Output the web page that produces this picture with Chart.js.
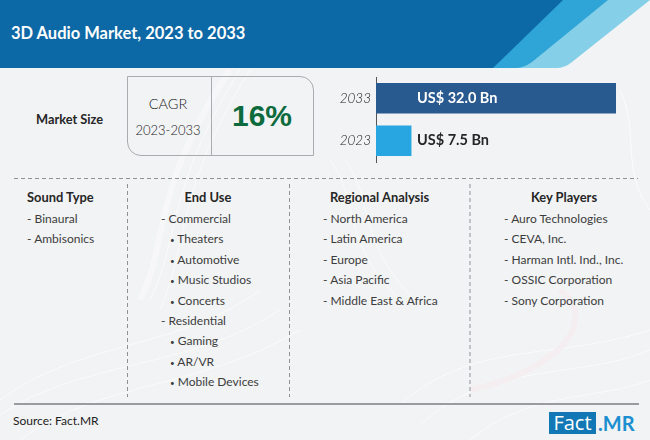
<!DOCTYPE html>
<html>
<head>
<meta charset="utf-8">
<script src="https://cdn.jsdelivr.net/npm/chart.js@4"></script>
<style>
html, body { margin: 0; padding: 0; }
body { width: 650px; height: 440px; position: relative; overflow: hidden; background: #f2f3f5; font-family: Lato, sans-serif; color: #333; }
.abs { position: absolute; white-space: nowrap; line-height: 20px; }
#bg { position: absolute; left: 0; top: 0; }
#title { left: 11px; top: 22px; font: bold 16.5px/22px Lato, sans-serif; color: #fff; }
#cagrBox { position: absolute; left: 127px; top: 76px; width: 187px; height: 80px; box-sizing: border-box; border: 1px solid #a9abae; border-radius: 0 14px 0 14px; }
#cagrBox i { position: absolute; left: 83px; top: 0; width: 1px; height: 78px; background: #a9abae; }
.head { font-weight: 700; font-size: 12.9px; color: #262626; }
.item { font-size: 12px; color: #3c3c3c; }
.item span { font-size: 8px; }
#chartWrap { position: absolute; left: 330px; top: 71px; width: 300px; height: 97px; }
</style>
</head>
<body>
<svg id="bg" width="650" height="440">
  <g fill="none" stroke="#ffffff" stroke-width="1" opacity="0.7">
    <path d="M140 300 C 170 240, 150 190, 230 70" stroke-width="6" opacity="0.6"/>
    <path d="M150 300 C 180 240, 165 190, 240 70"/>
    <path d="M160 310 C 190 240, 175 190, 250 70"/>
    <path d="M0 400 C 80 340, 180 350, 260 290"/>
    <path d="M0 415 C 80 360, 190 370, 280 310"/>
    <path d="M20 440 C 100 380, 200 390, 300 330"/>
    <path d="M330 160 C 360 200, 340 240, 400 300"/>
    <path d="M345 160 C 375 200, 355 240, 415 300"/>
    <path d="M400 405 C 470 340, 560 360, 650 330"/>
    <path d="M420 425 C 490 360, 580 380, 650 350"/>
    <path d="M470 440 C 530 390, 600 400, 650 380"/>
    <path d="M620 90 C 640 130, 620 170, 650 210"/>
  </g>
  <path d="M560 290 C 600 320, 560 370, 470 390" fill="none" stroke="#f5eef1" stroke-width="6"/>

  <!-- header band -->
  <path d="M650 0 L650 0 L572 62 Q565 68 556 68 L500 68 L560 0 Z" fill="#85cfe8"/>
  <path d="M608 0 L532 62 Q524 68 515 68 L480 68 L550 0 Z" fill="#2ea5d6"/>
  <path d="M0 0 H563 L493 68 H0 Z" fill="#0d68a6"/>

  <!-- dashed separators and footer rule -->
  <g stroke="#8f9194" stroke-width="1" stroke-dasharray="4 3">
    <line x1="14" y1="178.5" x2="638" y2="178.5"/>
    <line x1="127.5" y1="184" x2="127.5" y2="397"/>
    <line x1="289.5" y1="184" x2="289.5" y2="397"/>
    <line x1="470" y1="184" x2="470" y2="397" stroke="#b0b2b5" stroke-width="1.5"/>
  </g>
  <line x1="14" y1="404" x2="639" y2="404" stroke="#999b9e" stroke-width="2"/>
</svg>

<div id="title" class="abs">3D Audio Market, 2023 to 2033</div>
<div class="abs" style="left:36px;top:109px;font-weight:700;font-size:12.8px;color:#262626">Market Size</div>
<div id="cagrBox"><i></i></div>
<div class="abs" style="left:128px;width:80px;top:94px;text-align:center;font-size:14.5px;font-weight:300;color:#1a1a1a">CAGR</div>
<div class="abs" style="left:128px;width:80px;top:120px;text-align:center;font-size:13px;font-weight:300;color:#1a1a1a">2023-2033</div>
<div class="abs" style="left:232px;top:96px;font:bold 30px/40px 'Liberation Sans',sans-serif;color:#0c6a3c">16%</div>

<div id="chartWrap"><canvas id="marketChart"></canvas></div>
<div id="lists"></div>

<div class="abs" style="left:13px;top:411px;font-size:12px;color:#222">Source: Fact.MR</div>
<div class="abs" style="left:549px;top:412px;width:47px;height:22px;background:#1277b5;color:#fff;font:20px/22px 'Open Sans',sans-serif;text-align:center">Fact</div>
<div class="abs" style="left:598px;top:412px;height:22px;color:#1c8fd0;font:bold 20px/22px Lato,sans-serif">.MR</div>

<script>
// values shown on the bars, US$ Bn
const years = ['2033', '2023'];
const marketSize = [32.0, 7.5];
const barLabels = ['US$ 32.0 Bn', 'US$ 7.5 Bn'];
const barColors = ['#28598f', '#27a6e1'];
const labelColors = ['#ffffff', '#262626'];

// text columns
const soundType = ['- Binaural', '- Ambisonics'];
const endUse = ['- Commercial', '• Theaters', '• Automotive', '• Music Studios', '• Concerts', '- Residential', '• Gaming', '• AR/VR', '• Mobile Devices'];
const regions = ['- North America', '- Latin America', '- Europe', '- Asia Pacific', '- Middle East & Africa'];
const keyPlayers = ['- Auro Technologies', '- CEVA, Inc.', '- Harman Intl. Ind., Inc.', '- OSSIC Corporation', '- Sony Corporation'];

function addColumn(title, headX, headCenter, itemX, items) {
    const box = document.getElementById('lists');
    const h = document.createElement('div');
    h.className = 'abs head';
    h.textContent = title;
    h.style.top = '187px';
    h.style.left = headX + 'px';
    if (headCenter) h.style.transform = 'translateX(-50%)';
    box.appendChild(h);
    items.forEach(function (txt, i) {
        const d = document.createElement('div');
        const isSub = txt[0] === '•';
        d.className = 'abs item';
        if (isSub) {
            // smaller bullet, the reference has a tiny dot
            const dot = document.createElement('span');
            dot.textContent = '•';
            d.appendChild(dot);
            d.appendChild(document.createTextNode(txt.slice(1)));
        } else {
            d.textContent = txt;
        }
        d.style.top = (209 + i * 20.4) + 'px';
        d.style.left = (itemX + (isSub ? 9 : 0)) + 'px';
        box.appendChild(d);
    });
}
addColumn('Sound Type', 27, false, 27, soundType);
addColumn('End Use', 208, true, 161, endUse);
addColumn('Regional Analysis', 330, false, 323, regions);
addColumn('Key Players', 564, true, 504, keyPlayers);

// writes the value labels next to the bar start
const barText = {
    id: 'barText',
    afterDatasetsDraw(chart) {
        const ctx = chart.ctx;
        const meta = chart.getDatasetMeta(0);
        ctx.save();
        ctx.font = '700 14.5px Lato, sans-serif';
        ctx.textBaseline = 'middle';
        meta.data.forEach(function (bar, i) {
            ctx.fillStyle = labelColors[i];
            ctx.fillText(barLabels[i], chart.chartArea.left + 41, bar.y);
        });
        ctx.restore();
    }
};

// the reference bars are not proportional from zero, so the hidden axis starts at 3.3
const marketChart = new Chart(document.getElementById('marketChart').getContext('2d'), {
    type: 'bar',
    data: {
        labels: years,
        datasets: [{
            data: marketSize,
            backgroundColor: barColors,
            barThickness: 30
        }]
    },
    options: {
        indexAxis: 'y',
        responsive: true,
        maintainAspectRatio: false,
        animation: false,
        layout: { padding: { top: 6, right: 14, bottom: 6 } },
        plugins: { legend: { display: false }, tooltip: { enabled: false } },
        scales: {
            x: { display: false, min: 3.3, max: 32 },
            y: {
                afterFit(scale) {
                    scale.width = 46;
                    scale.paddingTop = 0;
                    scale.paddingBottom = 0;
                },
                grid: { display: false, drawTicks: false },
                border: { color: '#555', width: 1 },
                ticks: { color: '#222', padding: 5, font: { family: 'Lato', size: 13.5, weight: 300, style: 'italic' } }
            }
        }
    },
    plugins: [barText]
});
</script>
</body>
</html>
